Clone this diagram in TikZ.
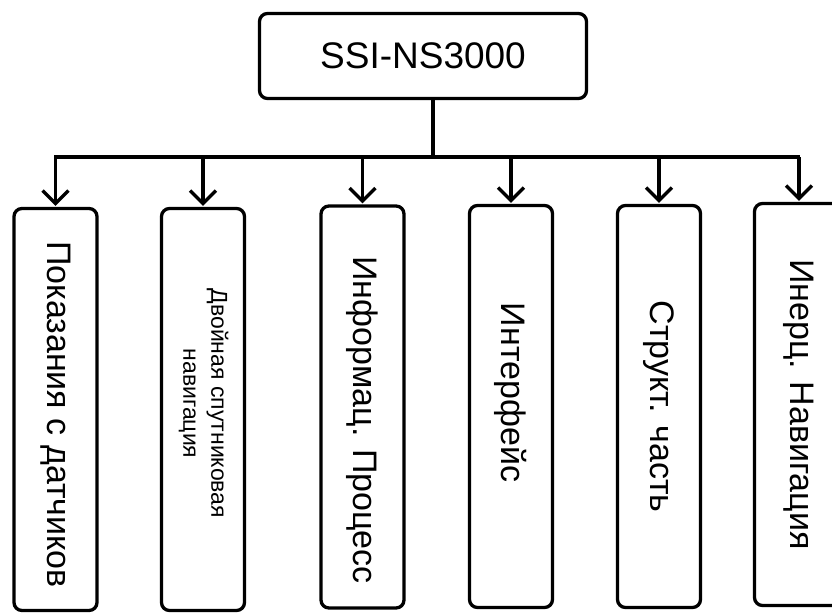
\documentclass[tikz,border=0pt]{standalone}
\usepackage{fontspec}
\setmainfont{Liberation Sans}
\usepackage{graphicx}
\usetikzlibrary{arrows.meta}
\usetikzlibrary{calc}

\begin{document}
\begin{tikzpicture}[x=1pt,y=-1pt,>={Straight Barb[length=13pt,width=26pt]},shorten >=1pt,line width=3.3pt,head node/.style={draw,rounded corners=8pt,minimum width=327pt,minimum height=85pt,inner sep=0pt,font=\fontsize{37}{42}\selectfont},part node/.style={draw,rounded corners=8pt,minimum width=83pt,minimum height=402pt,inner sep=0pt,font=\fontsize{34}{40}\selectfont}]

	\useasboundingbox (0,0) rectangle (832,613);

				\node[head node] (SSI) at (423,56) {SSI-NS3000};

				\node[part node] (P1) at (55.5,409.5) {\rotatebox{-90}{\hspace*{10pt}Показания с датчиков}};
				\node[part node] (P2) at (203,409.5) {\rotatebox{-90}{\fontsize{23}{28}\selectfont\begin{tabular}{@{}c@{}}Двойная спутниковая\\навигация\end{tabular}\hspace*{12pt}}};
				\node[part node] (P3) at (362.5,407) {\rotatebox{-90}{\hspace*{26pt}Информац. Процесс}};
				\node[part node] (P4) at (511,406.5) {\rotatebox{-90}{Интерфейс\hspace*{28pt}}};
				\node[part node] (P5) at (659,406.5) {\rotatebox{-90}{Структ. часть}};
				\node[part node,minimum width=89pt] (P6) at (799,404.5) {\rotatebox{-90}{Инерц. Навигация}};

				\coordinate (bus) at (0,157);

				\draw[line cap=rect] ([xshift=10pt]SSI.south) -- ([xshift=10pt]SSI.south |- bus);
				\draw[line cap=rect] (P1.north |- bus) -- (P6.north |- bus);
				\foreach \i in {1,...,6}
					\draw[->] (P\i.north |- bus) -- (P\i.north);

			\end{tikzpicture}
\end{document}
